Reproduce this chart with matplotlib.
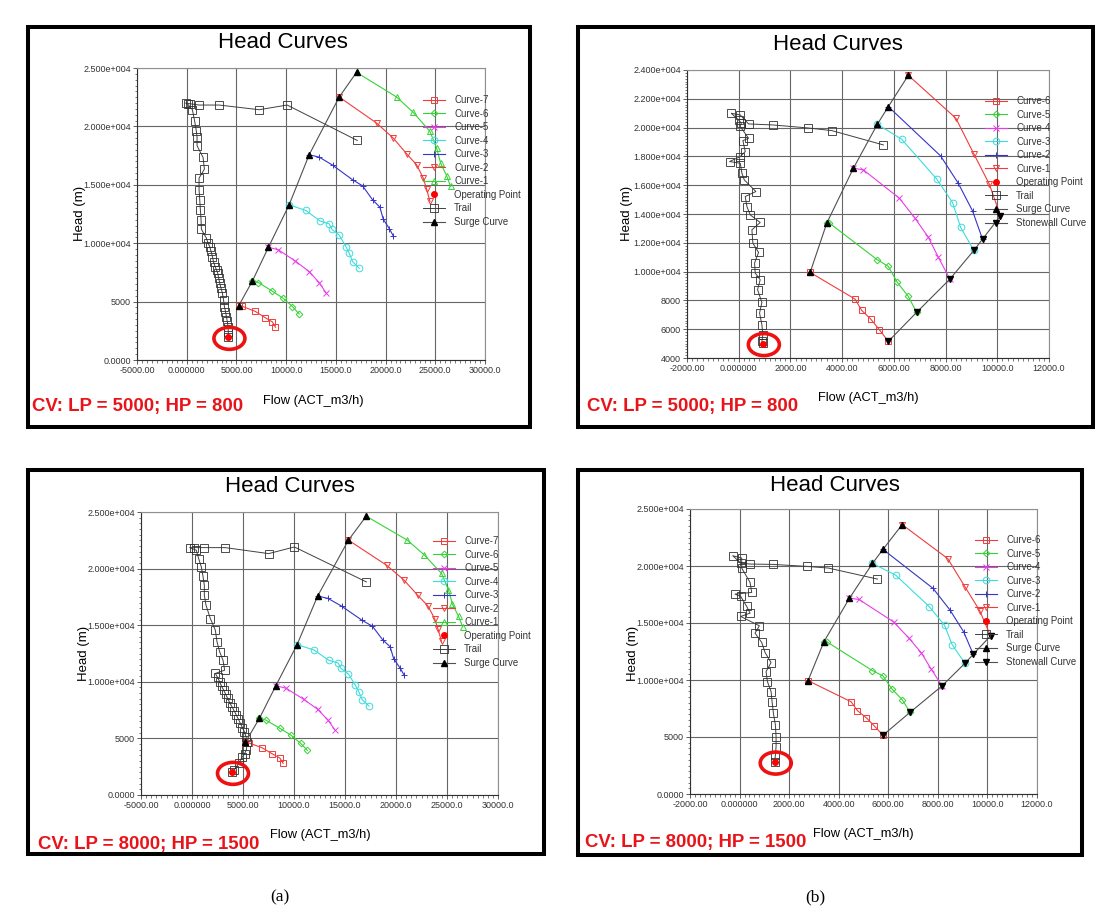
import matplotlib
matplotlib.use('Agg')
import matplotlib.pyplot as plt
from matplotlib.patches import Rectangle, Ellipse
from matplotlib.ticker import AutoMinorLocator

plt.rcParams['font.family'] = ['Liberation Sans', 'DejaVu Sans']

# ---------------- data ----------------
# (a) compressor map: curves 1..7, surge line
a_surge_x = [5235, 6611, 8221, 10302, 12315, 15336, 17081]
a_surge_y = [4657, 6771, 9657, 13286, 17571, 22514, 24629]
a_c7_x = [5235, 5570, 6879, 7886, 8624, 8926]
a_c7_y = [4657, 4600, 4171, 3629, 3257, 2800]
a_c6_x = [6611, 7215, 8624, 9698, 10638, 11309]
a_c6_y = [6771, 6629, 5886, 5286, 4571, 3943]
a_c5_x = [8221, 9228, 10940, 12315, 13322, 13993]
a_c5_y = [9657, 9429, 8457, 7571, 6629, 5771]
a_c4_x = [10302, 11980, 13389, 14329, 14597, 15336, 16007, 16342, 16678, 17349]
a_c4_y = [13286, 12800, 11914, 11657, 11200, 10686, 9714, 9143, 8429, 7857]
a_c3_x = [12315, 13322, 14664, 16678, 17685, 18691, 19430, 19765, 20369, 20772]
a_c3_y = [17571, 17371, 16686, 15429, 14914, 13714, 13086, 12057, 11257, 10629]
a_c2_x = [15336, 19094, 20772, 22114, 23121, 23792, 24128, 24463]
a_c2_y = [22514, 20286, 19000, 17657, 16714, 15571, 14629, 13571]
a_c1_x = [17081, 21107, 22785, 24463, 25134, 25537, 26141, 26544]
a_c1_y = [24629, 22514, 21200, 19571, 18143, 16857, 15771, 14857]

# (a) trails and operating points, top (LP=5000) and bottom (LP=8000)
a1_trail_x = [17148, 10101, 7282, 3255, 1242, 302, -101, 100, 570, 805, 973, 1040, 1040,
              1644, 1779, 1242, 1242, 1309, 1376, 1443, 1477, 1980, 2150, 2315, 2450,
              2584, 2700, 2852, 3000, 3121, 3220, 3322, 3450, 3591, 3700, 3792, 3900,
              3993, 4080, 4161, 4180, 4195]
a1_trail_y = [18800, 21829, 21429, 21829, 21829, 21943, 22000, 21900, 21429, 20429, 19571,
              19086, 18343, 17343, 16343, 15571, 14571, 13714, 12857, 12000, 11200, 10429,
              10000, 9714, 9300, 8857, 8400, 8000, 7700, 7429, 7000, 6571, 6150, 5714,
              5150, 4571, 4150, 3714, 3300, 2857, 2400, 2000]
a1_op = (4195, 1940)
a2_trail_x = [17092, 10033, 7516, 3268, 1209, 163, -229, 425, 654, 915, 1078, 1209, 1209,
              1373, 1797, 2288, 2451, 2712, 3039, 3203, 2288, 2500, 2712, 2900, 3105,
              3300, 3497, 3700, 3922, 4150, 4346, 4550, 4739, 4950, 5131, 5300, 5392,
              5327, 5150, 4935, 4575, 4150, 3922]
a2_trail_y = [18824, 21912, 21324, 21853, 21853, 21853, 21853, 21618, 20882, 20147, 19324,
              18529, 17647, 16765, 15588, 14559, 13529, 12647, 11912, 11029, 10735, 10400,
              10000, 9600, 9265, 8900, 8529, 8150, 7794, 7400, 7059, 6700, 6324, 5950,
              5588, 5150, 4706, 3971, 3650, 3382, 2794, 2206, 2059]
a2_op = (3922, 2000)

# (b) compressor map: curves 1..6, surge and stonewall lines
b_surge_x = [2762, 3405, 4435, 5362, 5786, 6559]
b_surge_y = [9942, 13364, 17179, 20231, 21457, 23630]
b_stone_x = [5786, 6880, 8167, 9094, 9429, 10124]
b_stone_y = [5156, 7168, 9480, 11468, 12254, 13873]
b_c6_x = [2762, 4499, 4757, 5104, 5439, 5786]
b_c6_y = [9942, 8092, 7306, 6705, 5965, 5156]
b_c5_x = [3405, 3508, 5362, 5786, 6134, 6559, 6880]
b_c5_y = [13364, 13364, 10821, 10358, 9249, 8277, 7168]
b_c4_x = [4435, 4821, 6211, 6816, 7331, 7717, 8167]
b_c4_y = [17179, 17064, 15098, 13711, 12393, 11006, 9480]
b_c3_x = [5362, 6301, 7653, 8270, 8579, 9094]
b_c3_y = [20231, 19191, 16439, 14798, 13087, 11468]
b_c2_x = [5786, 7807, 8489, 9042, 9429]
b_c2_y = [21457, 18035, 16139, 14220, 12254]
b_c1_x = [6559, 8399, 9094, 9686, 10124]
b_c1_y = [23630, 20647, 18173, 16092, 13873]

# (b) trails and operating points
b1_trail_x = [5593, 3598, 2672, 1308, 381, 59, -288, -5, 100, 50, 381, 162, 252, 59, -353,
              59, 124, 214, 664, 252, 317, 445, 831, 510, 548, 767, 613, 638, 831, 728,
              896, 806, 896, 934, 896, 934]
b1_trail_y = [18798, 19792, 19977, 20185, 20254, 20879, 20994, 20532, 20300, 20100, 19260,
              19098, 18335, 17988, 17642, 17526, 16832, 16370, 15561, 15214, 14520, 13942,
              13410, 12902, 11977, 11329, 10590, 9896, 9434, 8740, 7861, 7121, 6312, 5618,
              5156, 5040]
b1_op = (934, 5000)
b2_trail_x = [5564, 3585, 2711, 1338, 423, 46, -277, 86, 86, 423, 490, -183, 46, 288, 423,
              46, 799, 624, 894, 1028, 1271, 1069, 1122, 1271, 1311, 1365, 1445, 1473,
              1473, 1445, 1419]
b2_trail_y = [18852, 19819, 19965, 20141, 20170, 20258, 20902, 20697, 19819, 18560, 17681,
              17535, 17330, 16452, 15867, 15574, 14754, 14111, 13290, 12412, 11534, 10744,
              9865, 8987, 8109, 7084, 6060, 5035, 4157, 3425, 2840]
b2_op = (1419, 2800)

# axis ticks and labels
a_xticks = [-5000, 0, 5000, 10000, 15000, 20000, 25000, 30000]
a_xlabels = ['-5000.00', '0.000000', '5000.00', '10000.0', '15000.0', '20000.0', '25000.0', '30000.0']
b_xticks = [-2000, 0, 2000, 4000, 6000, 8000, 10000, 12000]
b_xlabels = ['-2000.00', '0.000000', '2000.00', '4000.00', '6000.00', '8000.00', '10000.0', '12000.0']
y25_ticks = [0, 5000, 10000, 15000, 20000, 25000]
y25_labels = ['0.0000', '5000', '1.000e+004', '1.500e+004', '2.000e+004', '2.500e+004']
y24_ticks = [4000, 6000, 8000, 10000, 12000, 14000, 16000, 18000, 20000, 22000, 24000]
y24_labels = ['4000', '6000', '8000', '1.000e+004', '1.200e+004', '1.400e+004', '1.600e+004',
              '1.800e+004', '2.000e+004', '2.200e+004', '2.400e+004']

cv_texts = ['CV: LP = 5000; HP = 800', 'CV: LP = 8000; HP = 1500']

# ---------------- styles ----------------
RED = '#f03c3c'
GREEN = '#35d435'
MAGENTA = '#e83ce8'
CYAN = '#3cdcdc'
BLUE = '#3434c8'

a_curves = [
    ('Curve-7', a_c7_x, a_c7_y, RED, 's'),
    ('Curve-6', a_c6_x, a_c6_y, GREEN, 'D'),
    ('Curve-5', a_c5_x, a_c5_y, MAGENTA, 'x'),
    ('Curve-4', a_c4_x, a_c4_y, CYAN, 'o'),
    ('Curve-3', a_c3_x, a_c3_y, BLUE, '+'),
    ('Curve-2', a_c2_x, a_c2_y, RED, 'v'),
    ('Curve-1', a_c1_x, a_c1_y, GREEN, '^'),
]
b_curves = [
    ('Curve-6', b_c6_x, b_c6_y, RED, 's'),
    ('Curve-5', b_c5_x, b_c5_y, GREEN, 'D'),
    ('Curve-4', b_c4_x, b_c4_y, MAGENTA, 'x'),
    ('Curve-3', b_c3_x, b_c3_y, CYAN, 'o'),
    ('Curve-2', b_c2_x, b_c2_y, BLUE, '+'),
    ('Curve-1', b_c1_x, b_c1_y, RED, 'v'),
]

W, H = 1098, 915
fig = plt.figure(figsize=(W / 100, H / 100), dpi=100)


def fx(px):
    return px / W


def fy(py):
    return 1 - py / H


def draw_panel(p):
    # outer black frame
    x0, y0, x1, y1 = p['box']
    fig.add_artist(Rectangle((fx(x0), fy(y1)), (x1 - x0) / W, (y1 - y0) / H, fill=False,
                             lw=2.9, ec='black', transform=fig.transFigure))
    l, t, r, b = p['axes']
    ax = fig.add_axes([fx(l), fy(b), (r - l) / W, (b - t) / H])

    handles = []
    for name, xs, ys, col, mk in p['curves']:
        ms = 3.4 if mk == 'D' else 4.8
        h, = ax.plot(xs, ys, color=col, lw=0.8, marker=mk, ms=ms, mfc='none', mec=col,
                     mew=0.7, label=name, zorder=3)
        handles.append(h)
    op, = ax.plot([p['op'][0]], [p['op'][1]], ls='none', marker='o', ms=4, color='red',
                  label='Operating Point', zorder=6)
    handles.append(op)
    tr, = ax.plot(p['trail_x'], p['trail_y'], color='#404040', lw=0.7, marker='s', ms=5.4,
                  mfc='none', mec='#303030', mew=0.6, label='Trail', zorder=4)
    handles.append(tr)
    sg, = ax.plot(p['surge_x'], p['surge_y'], color='#505050', lw=0.8, marker='^', ms=4.4,
                  mfc='black', mec='black', label='Surge Curve', zorder=5)
    handles.append(sg)
    if p.get('stone_x'):
        sw, = ax.plot(p['stone_x'], p['stone_y'], color='#505050', lw=0.8, marker='v',
                      ms=4.4, mfc='black', mec='black', label='Stonewall Curve', zorder=5)
        handles.append(sw)

    ax.set_xlim(p['xticks'][0], p['xticks'][-1])
    ax.set_ylim(p['yticks'][0], p['yticks'][-1])
    ax.set_xticks(p['xticks'])
    ax.set_xticklabels(p['xlabels'])
    ax.set_yticks(p['yticks'])
    ax.set_yticklabels(p['ylabels'])
    ax.xaxis.set_minor_locator(AutoMinorLocator(10))
    ax.yaxis.set_minor_locator(AutoMinorLocator(10))
    ax.tick_params(which='major', direction='out', length=3, width=0.6, color='#444',
                   labelsize=6.5, labelcolor='#333', pad=1.5)
    ax.tick_params(which='minor', direction='out', length=1.8, width=0.5, color='#444')
    ax.grid(True, which='major', color='#666666', lw=0.8)
    for side in ['top', 'right']:
        ax.spines[side].set_color('#909090')
    for side in ['left', 'bottom']:
        ax.spines[side].set_color('#303030')
    for s in ax.spines.values():
        s.set_linewidth(0.8)

    fig.text(fx(p['title'][0]), fy(p['title'][1]), 'Head Curves', fontsize=16,
             ha='center', va='center')
    fig.text(fx(p['xlab'][0]), fy(p['xlab'][1]), 'Flow (ACT_m3/h)', fontsize=9.3,
             ha='center', va='center')
    fig.text(fx(p['ylab'][0]), fy(p['ylab'][1]), 'Head (m)', fontsize=9.5, rotation=90,
             ha='center', va='center')
    fig.text(fx(p['cv'][0]), fy(p['cv'][1]), p['cv_text'], fontsize=13.4, color='#e8141a',
             fontweight='bold', ha='left', va='center')

    ax.legend(handles=handles, loc='upper left', bbox_to_anchor=(fx(p['leg'][0]), fy(p['leg'][1])),
              bbox_transform=fig.transFigure, frameon=False, borderpad=0, borderaxespad=0,
              fontsize=6.9, handlelength=2.3, handletextpad=0.95, labelspacing=0.37,
              labelcolor='#333333')

    # red ring around the operating point
    px, py = ax.transData.transform(p['op'])
    cx, cy = fig.transFigure.inverted().transform((px + 1, py - 1))
    fig.add_artist(Ellipse((cx, cy), 31 / W, 22 / H, fill=False, ec='#ee1111', lw=2.6,
                           transform=fig.transFigure, zorder=10))


panels = [
    dict(box=(28, 27, 530, 427), axes=(137, 68, 485, 360), title=(283, 43), xlab=(313, 401),
         ylab=(80, 213), cv=(32, 407), leg=(423, 95), cv_text=cv_texts[0],
         curves=a_curves, surge_x=a_surge_x, surge_y=a_surge_y,
         trail_x=a1_trail_x, trail_y=a1_trail_y, op=a1_op,
         xticks=a_xticks, xlabels=a_xlabels, yticks=y25_ticks, ylabels=y25_labels),
    dict(box=(578, 27, 1093, 427), axes=(687, 70, 1049, 358), title=(838, 45), xlab=(868, 398),
         ylab=(627, 213), cv=(587, 407), leg=(985, 96), cv_text=cv_texts[0],
         curves=b_curves, surge_x=b_surge_x, surge_y=b_surge_y,
         stone_x=b_stone_x, stone_y=b_stone_y,
         trail_x=b1_trail_x, trail_y=b1_trail_y, op=b1_op,
         xticks=b_xticks, xlabels=b_xlabels, yticks=y24_ticks, ylabels=y24_labels),
    dict(box=(28, 470, 544, 854), axes=(141, 512, 498, 795), title=(290, 487), xlab=(320, 835),
         ylab=(84, 653), cv=(38, 845), leg=(433, 536), cv_text=cv_texts[1],
         curves=a_curves, surge_x=a_surge_x, surge_y=a_surge_y,
         trail_x=a2_trail_x, trail_y=a2_trail_y, op=a2_op,
         xticks=a_xticks, xlabels=a_xlabels, yticks=y25_ticks, ylabels=y25_labels),
    dict(box=(578, 470, 1082, 855), axes=(690, 509, 1037, 794), title=(835, 485), xlab=(863, 834),
         ylab=(633, 653), cv=(585, 843), leg=(975, 535), cv_text=cv_texts[1],
         curves=b_curves, surge_x=b_surge_x, surge_y=b_surge_y,
         stone_x=b_stone_x, stone_y=b_stone_y,
         trail_x=b2_trail_x, trail_y=b2_trail_y, op=b2_op,
         xticks=b_xticks, xlabels=b_xlabels, yticks=y25_ticks, ylabels=y25_labels),
]

for p in panels:
    draw_panel(p)

fig.text(fx(280), fy(897), '(a)', fontsize=12.5, family=['Liberation Serif', 'DejaVu Serif'],
         ha='center', va='center')
fig.text(fx(815), fy(897), '(b)', fontsize=12.5, family=['Liberation Serif', 'DejaVu Serif'],
         ha='center', va='center')

fig.savefig('out.png', dpi=100)
